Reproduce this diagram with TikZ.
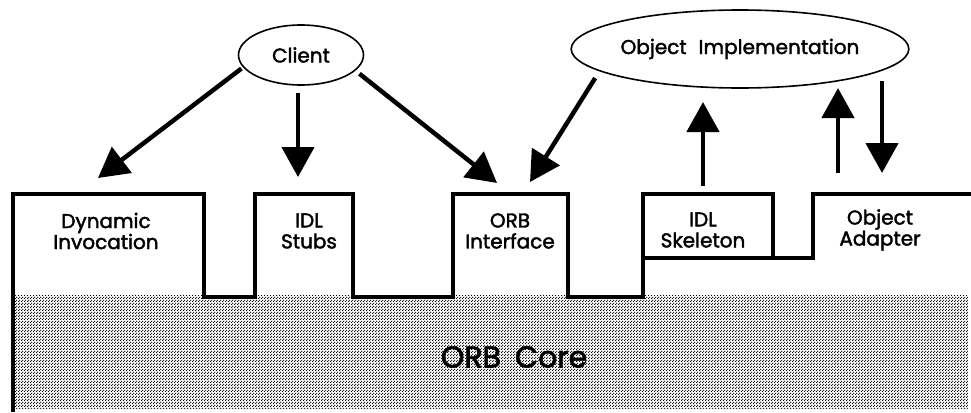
\documentclass[tikz,border=0pt]{standalone}
\usepackage{fontspec}
\setmainfont{Poppins}
\newfontfamily\lblfont{Poppins}[FakeBold=2]
\usetikzlibrary{arrows.meta,shapes.geometric,patterns}
% halftone dots for the ORB core
\pgfdeclarepatternformonly{coredots}{\pgfpointorigin}{\pgfqpoint{3pt}{3pt}}{\pgfqpoint{3pt}{3pt}}{%
  \pgfpathcircle{\pgfqpoint{0.75pt}{0.75pt}}{0.85pt}%
  \pgfpathcircle{\pgfqpoint{2.25pt}{2.25pt}}{0.85pt}%
  \pgfusepath{fill}}
\begin{document}
\begin{tikzpicture}[x=1pt,y=-1pt,
  oval/.style={draw, ellipse, line width=1.6pt, inner sep=0pt,
    font=\lblfont\fontsize{20}{22}\selectfont},
  boxtext/.style={align=center, inner sep=0pt,
    font=\lblfont\fontsize{20}{21}\selectfont},
  compart/.style={inner sep=0pt, outer sep=0pt, anchor=north west},
  arr/.style={line width=4.5pt, -{Triangle[length=30pt,width=32pt]}},
  wall/.style={line width=4.5pt, line join=miter},
  core/.style={pattern=coredots, pattern color=black}]
\useasboundingbox (0,0) rectangle (971,412);

% shaded ORB core
\fill[core] (15,295) rectangle (968,408);

% compartments of the ORB
\node[compart, minimum width=191pt, minimum height=103pt] (dynbox)   at (13,194)  {};
\node[compart, minimum width=98pt,  minimum height=103pt] (stubbox)  at (255,194) {};
\node[compart, minimum width=115pt, minimum height=103pt] (orbibox)  at (453,194) {};
\node[compart, minimum width=130pt, minimum height=64pt]  (skelbox)  at (643,194) {};
\node[compart, minimum width=158pt, minimum height=64pt]  (adaptbox) at (813,194) {};

% outline of the ORB
\draw[wall] (13,412) -- (dynbox.north west) -- (dynbox.north east)
  -- (dynbox.south east) -- (stubbox.south west) -- (stubbox.north west)
  -- (stubbox.north east) -- (stubbox.south east) -- (orbibox.south west)
  -- (orbibox.north west) -- (orbibox.north east) -- (orbibox.south east)
  -- (orbibox.south east -| skelbox.west) -- (skelbox.south west)
  -- (adaptbox.south west) -- (adaptbox.north west) -- (adaptbox.north east);
\draw[wall] (skelbox.south west) -- (skelbox.north west)
  -- (skelbox.north east) -- (skelbox.south east);

% labels
\node[boxtext] (dyn)   at (106,231) {Dynamic\\Invocation};
\node[boxtext] (stubs) at (309,231) {IDL\\Stubs};
\node[boxtext] (orbi)  at (510,231) {ORB\\Interface};
\node[boxtext] (skel)  at (703,230) {IDL\\Skeleton};
\node[boxtext] (adapt) at (880,230) {Object\\Adapter};
\node[inner sep=0pt, font=\lblfont\fontsize{30}{32}\selectfont] (orbcore) at (514,357) {ORB\hspace{14pt}Core};

% client and object implementation
\node[oval, minimum width=125pt, minimum height=60pt] (client) at (301,55) {Client};
\node[oval, minimum width=313pt, minimum height=78pt] (obj) at (740,49)
  {Object\hspace{12pt}Implementation};

% arrow tips
\coordinate (tDyn)  at (98,178);
\coordinate (tStub) at (298,177);
\coordinate (tOrbC) at (497,183);
\coordinate (tOrbO) at (530,182);
\coordinate (tSkel) at (703,102);
\coordinate (tAdUp) at (838,88);
\coordinate (tAdDn) at (882,173);

% requests and upcalls
\draw[arr, shorten <=2pt] (client.192) -- (tDyn);
\draw[arr, shorten <=7pt] (client.south -| tStub) -- (tStub);
\draw[arr, shorten <=5pt] (client.344) -- (tOrbC);
\draw[arr, shorten <=8pt] (obj.189.5) -- (tOrbO);
\draw[arr, shorten <=8pt] (skelbox.north -| tSkel) -- (tSkel);
\draw[arr, shorten <=21pt] (adaptbox.north -| tAdUp) -- (tAdUp);
\draw[arr, shorten <=14pt] (obj.353 -| tAdDn) -- (tAdDn);
\end{tikzpicture}
\end{document}
